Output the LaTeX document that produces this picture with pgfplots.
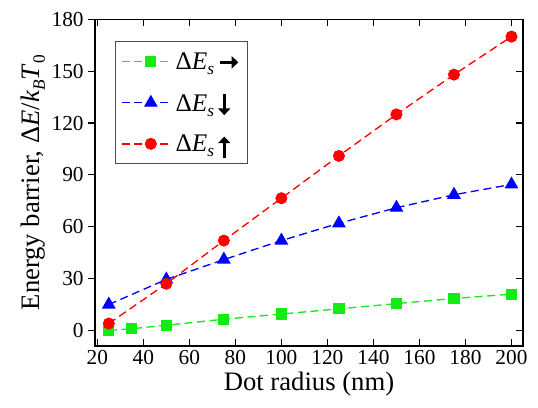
\documentclass[border=0pt]{standalone}
\usepackage{fontspec}
\setmainfont{Liberation Serif}
\usepackage{pgfplots}
\pgfplotsset{compat=1.18}
\usetikzlibrary{arrows.meta}
\definecolor{lgreen}{RGB}{20,235,20}
\newcommand{\sub}[1]{\raisebox{-0.45ex}{\fontsize{13}{13}\selectfont #1}}
\newcommand{\dEs}{Δ\textit{E}\sub{\textit{s}}}
\newcommand{\ar}[1]{\tikz[baseline=-3pt]\draw[line width=2.2pt,-{Triangle[length=5pt,width=9pt]}] #1;}
\pgfplotsset{
    common/.style={
        scale only axis,
        width=321pt, height=245pt,
        xmin=19, xmax=205,
        ymin=-9, ymax=180,
        xtick={20,40,...,200},
        ytick={0,30,...,180},
        axis line style={line width=0.9pt},
        major tick length=5pt,
        every tick/.style={black, line width=0.9pt},
    }
}
\begin{document}
\begin{tikzpicture}
\begin{axis}[
    common,
    tick label style={font=\fontsize{16}{18}\selectfont},
    /pgf/number format/assume math mode=true,
    xlabel={Dot radius (nm)},
    ylabel={Energy barrier, Δ\textit{E}/\textit{k}\sub{\textit{B}}\textit{T}\sub{0}},
    label style={font=\fontsize{20}{22}\selectfont},
    xlabel style={yshift=2pt},
    ylabel style={yshift=-2pt},
    ytick pos=left, ytick align=outside,
    xtick align=inside,
    legend style={at={(0.047,0.933)}, anchor=north west, draw=black!70, line width=0.6pt,
        font=\fontsize{19}{21}\selectfont, row sep=12pt, inner xsep=4pt, inner ysep=6pt},
    legend cell align=left,
    legend image code/.code={
        \draw[mark repeat=2, mark phase=2, #1] plot coordinates {(0pt,0pt) (22pt,0pt) (38pt,0pt)};
    },
    every axis plot/.append style={line width=1pt, dash pattern=on 6pt off 3.5pt},
]
\addplot[color=lgreen, mark=square*, mark size=3.7pt, mark options={solid}] coordinates {
    (25,0) (35,1) (50,3) (75,6.5) (100,9.5) (125,12.5) (150,15.5) (175,18.5) (200,21)
};
\addplot[color=blue, mark=triangle*, mark size=5pt, mark options={solid}] coordinates {
    (25,15) (50,29.5) (75,41) (100,52) (125,62) (150,71) (175,78.5) (200,84.5)
};
\addplot[color=red, mark=*, mark size=4pt, mark options={solid}] coordinates {
    (25,4) (50,27) (75,52) (100,76.5) (125,101) (150,125) (175,148) (200,170)
};
\legend{\dEs\,\ar{(0,2pt)--(14pt,2pt)}, \dEs\,\ar{(0,10pt)--(0,-6pt)}, \dEs\,\ar{(0,-8pt)--(0,8pt)}}
\end{axis}
\begin{axis}[
    common,
    hide x axis,
    ytick pos=right, ytick align=inside,
    yticklabels={},
]
\end{axis}
\pgfresetboundingbox
\path (current axis.south west) ++(-71.25pt,-45.75pt) rectangle ++(403.5pt,305.25pt);
\end{tikzpicture}
\end{document}
